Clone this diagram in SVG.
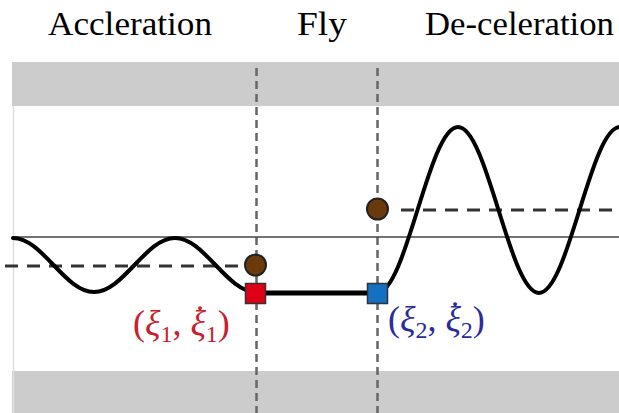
<svg xmlns="http://www.w3.org/2000/svg" width="619" height="413" viewBox="0 0 619 413">
<style>
.title{font-family:'Liberation Serif','Times New Roman',serif;font-size:34px;fill:#000}
.band{fill:#cccccc}
.vdash{stroke:#666;stroke-width:2.5;stroke-dasharray:8 5;fill:none}
.hdash{stroke:#333;stroke-width:3;stroke-dasharray:13 9;fill:none}
.wave{stroke:#000;stroke-width:4;fill:none;stroke-linecap:round}
.axis{stroke:#444;stroke-width:1.4}
.dot{fill:#6b3a0c;stroke:#222;stroke-width:2}
.lbl{font-family:'Liberation Serif','DejaVu Serif',serif;font-size:36px}
.sub{font-size:24px}
.acc{text-anchor:middle}
</style>
<rect width="619" height="413" fill="#fff"/>
<g id="bands">
<rect class="band" x="12" y="62" width="607" height="44"/>
<rect class="band" x="12" y="371" width="607" height="42"/>
<line x1="13.5" y1="106" x2="13.5" y2="413" stroke="#ddd" stroke-width="1.5"/>
</g>
<g id="titles">
<text class="title" x="48" y="35" textLength="164" lengthAdjust="spacingAndGlyphs">Accleration</text>
<text class="title" x="297" y="35" textLength="50" lengthAdjust="spacingAndGlyphs">Fly</text>
<text class="title" x="425" y="35" textLength="189" lengthAdjust="spacingAndGlyphs">De-celeration</text>
</g>
<g id="connectors">
<line class="vdash" x1="256.5" y1="68" x2="256.5" y2="413"/>
<line class="vdash" x1="377.5" y1="68" x2="377.5" y2="413"/>
<line class="axis" x1="13" y1="237" x2="619" y2="237"/>
<line class="hdash" x1="5" y1="266" x2="243" y2="266"/>
<line class="hdash" x1="401" y1="210" x2="619" y2="210"/>
<path class="wave" d="M13,238 C42.4,238 64.6,292 94,292 C123.4,292 145.6,238 175,238 C204.4,238 226.6,292 256,292"/>
<path class="wave" d="M377,293 C406.4,293 428.6,127 458,127 C487.4,127 509.6,293 539,293 C568.4,293 590.6,127 620,127"/>
<line x1="256" y1="293" x2="378" y2="293" stroke="#000" stroke-width="5"/>
</g>
<g id="node-start">
<circle class="dot" cx="255.5" cy="265" r="10.5"/>
<rect x="245.5" y="283.5" width="20" height="20" fill="#e00016" stroke="#333" stroke-width="1.5"/>
<text class="lbl" x="133" y="335" fill="#c8202e">(<tspan font-style="italic">ξ</tspan><tspan class="sub" dy="7">1</tspan><tspan dy="-7">, </tspan><tspan font-style="italic">ξ</tspan><tspan class="sub" dy="7">1</tspan><tspan dy="-7">)</tspan><tspan class="acc" x="200" y="330">˙</tspan></text>
</g>
<g id="node-end">
<circle class="dot" cx="377.5" cy="209" r="10.5"/>
<rect x="367.5" y="283.5" width="20" height="20" fill="#1470c0" stroke="#333" stroke-width="1.5"/>
<text class="lbl" x="388" y="331" fill="#2b2b99">(<tspan font-style="italic">ξ</tspan><tspan class="sub" dy="7">2</tspan><tspan dy="-7">, </tspan><tspan font-style="italic">ξ</tspan><tspan class="sub" dy="7">2</tspan><tspan dy="-7">)</tspan><tspan class="acc" x="455" y="326">˙</tspan></text>
</g>
</svg>
